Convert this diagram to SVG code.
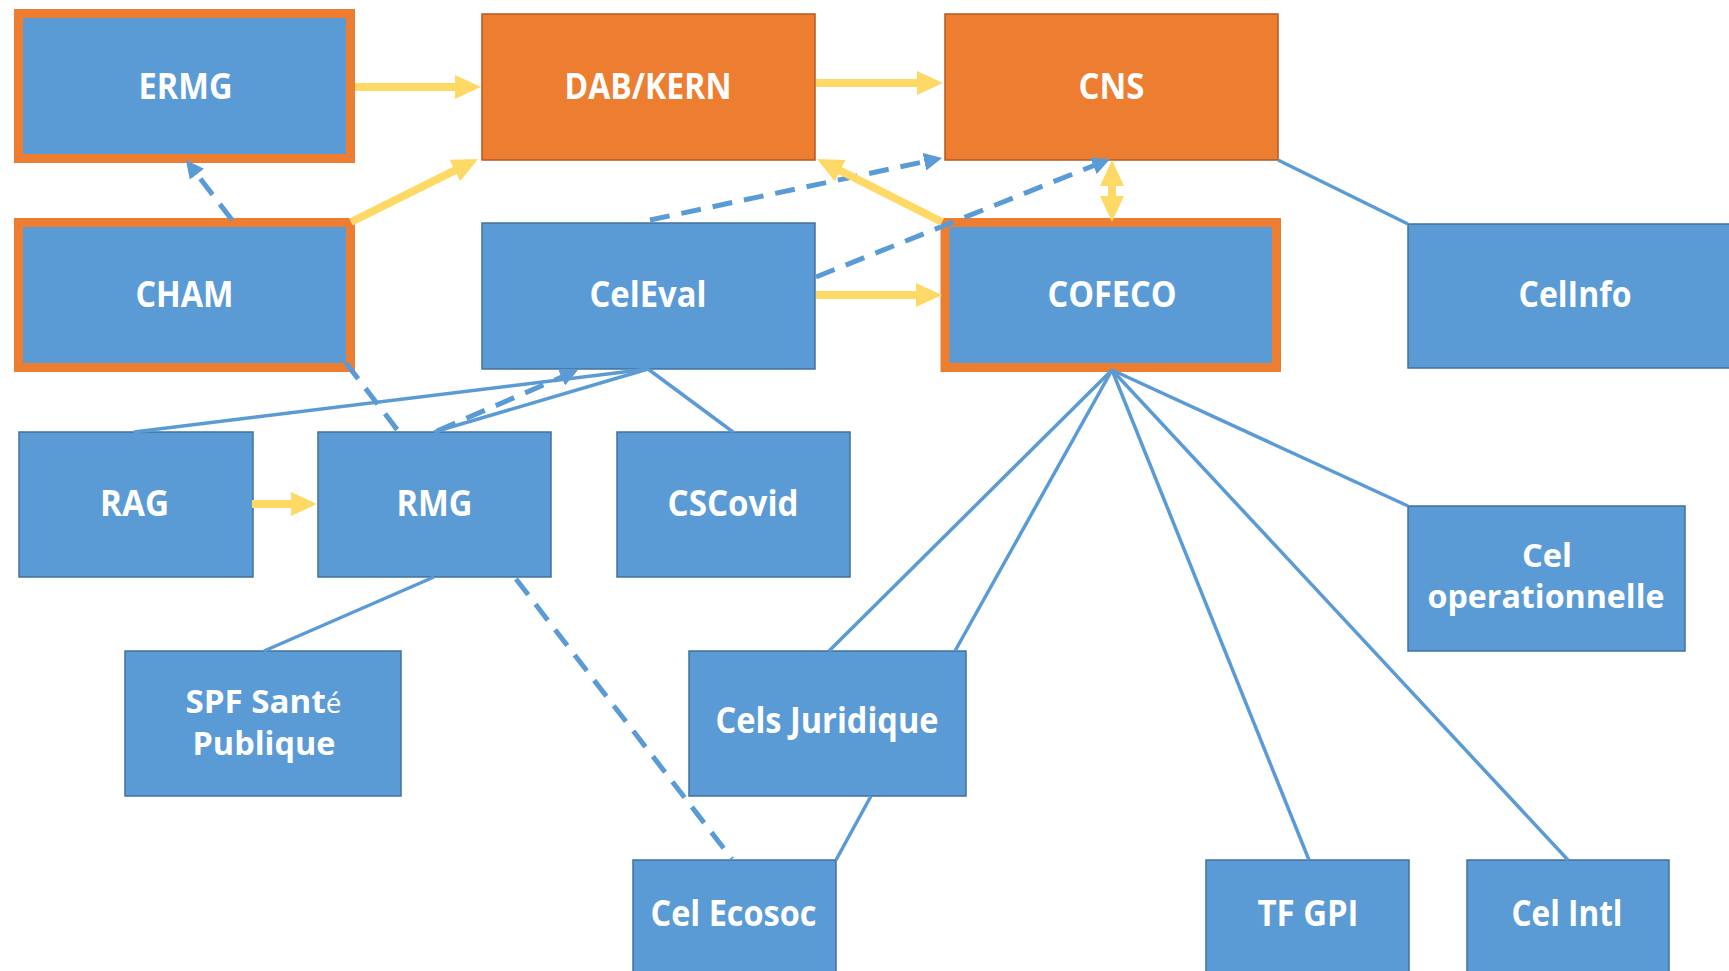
<svg xmlns="http://www.w3.org/2000/svg" width="1729" height="971" viewBox="0 0 1729 971">
<style>
.bl{fill:#5B9BD5;stroke:#41719C;stroke-width:1.5}
.or{fill:#ED7D31;stroke:#B45A1F;stroke-width:1.5}
.ob{fill:#5B9BD5;stroke:#ED7D31;stroke-width:9}
.t{font-family:"Open Sans","Liberation Sans",sans-serif;font-weight:bold;font-size:36px;fill:#FFFFFF;text-anchor:middle}
.t2{font-size:32px}
.y{stroke:#FFD966;stroke-width:8;fill:none}
.bd{stroke:#5B9BD5;stroke-width:5;fill:none;stroke-dasharray:20 12}
.bs{stroke:#5B9BD5;stroke-width:3.5;fill:none}
</style>
<defs>
<marker id="ya" viewBox="0 0 26 24" refX="2" refY="12" markerWidth="26" markerHeight="24" markerUnits="userSpaceOnUse" orient="auto-start-reverse">
<path d="M0,0 L26,12 L0,24 z" fill="#FFD966"/>
</marker>
<marker id="ba" viewBox="0 0 18 18" refX="2" refY="9" markerWidth="18" markerHeight="18" markerUnits="userSpaceOnUse" orient="auto">
<path d="M0,0 L18,9 L0,18 z" fill="#5B9BD5"/>
</marker>
</defs>
<rect width="1729" height="971" fill="#FFFFFF"/>
<g id="ERMG"><rect class="ob" x="18.5" y="13.5" width="332" height="145"/><text class="t" x="185.5" y="99" textLength="94" lengthAdjust="spacingAndGlyphs">ERMG</text></g>
<g id="CHAM"><rect class="ob" x="18.5" y="222.5" width="332" height="145"/><text class="t" x="184.5" y="307" textLength="98" lengthAdjust="spacingAndGlyphs">CHAM</text></g>
<g id="DABKERN"><rect class="or" x="482" y="14" width="333" height="146"/><text class="t" x="648" y="99" textLength="167" lengthAdjust="spacingAndGlyphs">DAB/KERN</text></g>
<g id="CNS"><rect class="or" x="945" y="14" width="333" height="146"/><text class="t" x="1111.5" y="99" textLength="66" lengthAdjust="spacingAndGlyphs">CNS</text></g>
<g id="CelEval"><rect class="bl" x="482" y="223" width="333" height="146"/><text class="t" x="648" y="307" textLength="117" lengthAdjust="spacingAndGlyphs">CelEval</text></g>
<g id="COFECO"><rect class="ob" x="945" y="222.5" width="331.5" height="145"/><text class="t" x="1112" y="307" textLength="129" lengthAdjust="spacingAndGlyphs">COFECO</text></g>
<g id="CelInfo"><rect class="bl" x="1408" y="224" width="330" height="144"/><text class="t" x="1575" y="307" textLength="113" lengthAdjust="spacingAndGlyphs">CelInfo</text></g>
<g id="CelOperationnelle"><rect class="bl" x="1408" y="506" width="277" height="145"/><text class="t t2" x="1547" y="567" textLength="50" lengthAdjust="spacingAndGlyphs">Cel</text><text class="t t2" x="1546" y="608" textLength="237" lengthAdjust="spacingAndGlyphs">operationnelle</text></g>
<g id="RAG"><rect class="bl" x="19" y="432" width="234" height="145"/><text class="t" x="134.6" y="516" textLength="69" lengthAdjust="spacingAndGlyphs">RAG</text></g>
<g id="RMG"><rect class="bl" x="318" y="432" width="233" height="145"/><text class="t" x="434.5" y="516" textLength="76" lengthAdjust="spacingAndGlyphs">RMG</text></g>
<g id="CSCovid"><rect class="bl" x="617" y="432" width="233" height="145"/><text class="t" x="733" y="516" textLength="131" lengthAdjust="spacingAndGlyphs">CSCovid</text></g>
<g id="SPF"><rect class="bl" x="125" y="651" width="276" height="145"/><text class="t t2" x="263.5" y="713" textLength="156" lengthAdjust="spacingAndGlyphs">SPF Sant<tspan font-weight="normal" font-size="27">é</tspan></text><text class="t t2" x="264" y="755" textLength="143" lengthAdjust="spacingAndGlyphs">Publique</text></g>
<g id="CelsJuridique"><rect class="bl" x="689" y="651" width="277" height="145"/><text class="t" x="827" y="733" textLength="223" lengthAdjust="spacingAndGlyphs">Cels Juridique</text></g>
<g id="CelEcosoc"><rect class="bl" x="633" y="860" width="203" height="130"/><text class="t" x="733.5" y="926" textLength="166" lengthAdjust="spacingAndGlyphs">Cel Ecosoc</text></g>
<g id="TFGPI"><rect class="bl" x="1206" y="860" width="203" height="130"/><text class="t" x="1308" y="926" textLength="101" lengthAdjust="spacingAndGlyphs">TF GPI</text></g>
<g id="CelIntl"><rect class="bl" x="1467" y="860" width="202" height="130"/><text class="t" x="1567" y="926" textLength="111" lengthAdjust="spacingAndGlyphs">Cel Intl</text></g>
<g id="connectors">
<line class="bs" x1="134" y1="432" x2="648" y2="369"/>
<line class="bs" x1="434" y1="432" x2="648" y2="369"/>
<line class="bs" x1="733" y1="432" x2="648" y2="369"/>
<line class="bs" x1="434" y1="577" x2="264" y2="651"/>
<line class="bs" x1="871" y1="796" x2="836" y2="860"/>
<line class="bs" x1="1112" y1="370" x2="829" y2="651"/>
<line class="bs" x1="1112" y1="370" x2="955" y2="651"/>
<line class="bs" x1="1112" y1="370" x2="1309" y2="860"/>
<line class="bs" x1="1112" y1="370" x2="1568" y2="860"/>
<line class="bs" x1="1112" y1="370" x2="1408" y2="506"/>
<line class="bs" x1="1278" y1="160" x2="1408" y2="224"/>
<line class="bd" x1="346" y1="363" x2="399" y2="432"/>
<line class="bd" x1="516" y1="579" x2="732" y2="859"/>
<line class="bd" x1="232" y1="220" x2="195.7" y2="172.7" marker-end="url(#ba)"/>
<line class="bd" x1="650" y1="220" x2="926.4" y2="161.3" marker-end="url(#ba)"/>
<line class="bd" x1="816" y1="277" x2="1095.2" y2="165" marker-end="url(#ba)"/>
<line class="bd" x1="437" y1="431" x2="563.3" y2="376.4" marker-end="url(#ba)"/>
<line class="y" x1="355" y1="87" x2="457" y2="87" marker-end="url(#ya)"/>
<line class="y" x1="351" y1="222" x2="456.5" y2="169.7" marker-end="url(#ya)"/>
<line class="y" x1="816" y1="83" x2="919" y2="83" marker-end="url(#ya)"/>
<line class="y" x1="942" y1="222" x2="838.4" y2="169.8" marker-end="url(#ya)"/>
<line class="y" x1="816" y1="295" x2="918" y2="295" marker-end="url(#ya)"/>
<line class="y" x1="1112" y1="184" x2="1112" y2="198" marker-start="url(#ya)" marker-end="url(#ya)"/>
<line class="y" x1="252" y1="504" x2="293" y2="504" marker-end="url(#ya)"/>
</g>
</svg>
